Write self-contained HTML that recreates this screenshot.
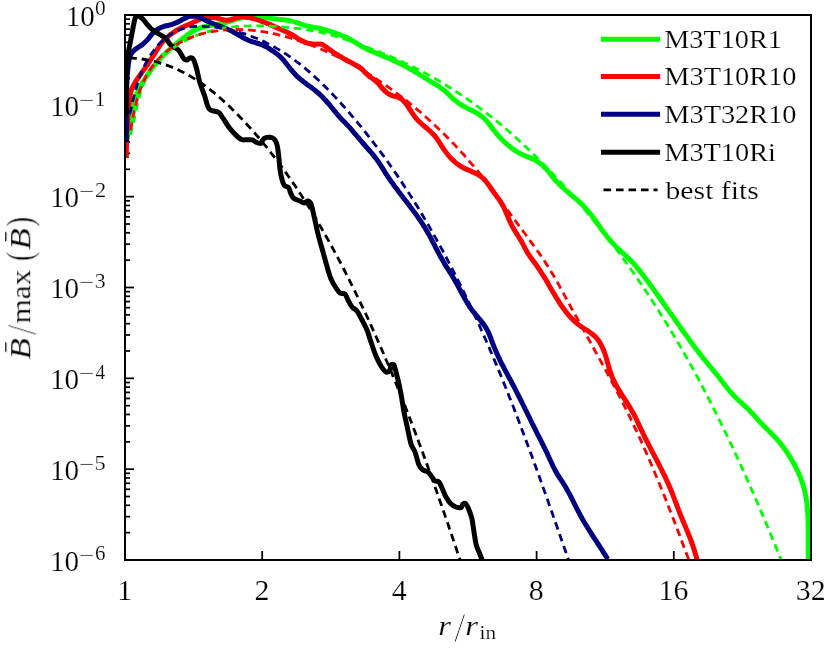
<!DOCTYPE html>
<html lang="en"><head><meta charset="utf-8"><title>Radial magnetic field profiles</title>
<style>
html,body{margin:0;padding:0;background:#fff;}
body{width:830px;height:650px;overflow:hidden;}
svg{display:block;}
text{font-family:"Liberation Serif",serif;fill:#000;font-kerning:none;stroke:#fff;stroke-width:0.2px;}
.txt{filter:grayscale(1);}
.s{fill:none;stroke-width:5.0;stroke-linejoin:round;stroke-linecap:butt;}
.d{fill:none;stroke-width:2.8;stroke-dasharray:7.6 4.9;stroke-linejoin:round;}
</style></head><body>
<svg width="830" height="650" viewBox="0 0 830 650">
<rect width="830" height="650" fill="#fff"/>
<defs><clipPath id="cp"><rect x="124" y="14" width="688" height="547"/></clipPath></defs>

<g stroke="#000" stroke-width="1.75">
<line x1="125.0" x2="134.0" y1="15.00" y2="15.00"/>
<line x1="125.0" x2="130.0" y1="78.49" y2="78.49"/>
<line x1="125.0" x2="130.0" y1="62.49" y2="62.49"/>
<line x1="125.0" x2="130.0" y1="51.15" y2="51.15"/>
<line x1="125.0" x2="130.0" y1="42.34" y2="42.34"/>
<line x1="125.0" x2="130.0" y1="35.15" y2="35.15"/>
<line x1="125.0" x2="130.0" y1="29.07" y2="29.07"/>
<line x1="125.0" x2="130.0" y1="23.80" y2="23.80"/>
<line x1="125.0" x2="130.0" y1="19.16" y2="19.16"/>
<line x1="125.0" x2="134.0" y1="105.83" y2="105.83"/>
<line x1="125.0" x2="130.0" y1="169.32" y2="169.32"/>
<line x1="125.0" x2="130.0" y1="153.33" y2="153.33"/>
<line x1="125.0" x2="130.0" y1="141.98" y2="141.98"/>
<line x1="125.0" x2="130.0" y1="133.18" y2="133.18"/>
<line x1="125.0" x2="130.0" y1="125.98" y2="125.98"/>
<line x1="125.0" x2="130.0" y1="119.90" y2="119.90"/>
<line x1="125.0" x2="130.0" y1="114.64" y2="114.64"/>
<line x1="125.0" x2="130.0" y1="109.99" y2="109.99"/>
<line x1="125.0" x2="134.0" y1="196.67" y2="196.67"/>
<line x1="125.0" x2="130.0" y1="260.16" y2="260.16"/>
<line x1="125.0" x2="130.0" y1="244.16" y2="244.16"/>
<line x1="125.0" x2="130.0" y1="232.81" y2="232.81"/>
<line x1="125.0" x2="130.0" y1="224.01" y2="224.01"/>
<line x1="125.0" x2="130.0" y1="216.82" y2="216.82"/>
<line x1="125.0" x2="130.0" y1="210.74" y2="210.74"/>
<line x1="125.0" x2="130.0" y1="205.47" y2="205.47"/>
<line x1="125.0" x2="130.0" y1="200.82" y2="200.82"/>
<line x1="125.0" x2="134.0" y1="287.50" y2="287.50"/>
<line x1="125.0" x2="130.0" y1="350.99" y2="350.99"/>
<line x1="125.0" x2="130.0" y1="334.99" y2="334.99"/>
<line x1="125.0" x2="130.0" y1="323.65" y2="323.65"/>
<line x1="125.0" x2="130.0" y1="314.84" y2="314.84"/>
<line x1="125.0" x2="130.0" y1="307.65" y2="307.65"/>
<line x1="125.0" x2="130.0" y1="301.57" y2="301.57"/>
<line x1="125.0" x2="130.0" y1="296.30" y2="296.30"/>
<line x1="125.0" x2="130.0" y1="291.66" y2="291.66"/>
<line x1="125.0" x2="134.0" y1="378.33" y2="378.33"/>
<line x1="125.0" x2="130.0" y1="441.82" y2="441.82"/>
<line x1="125.0" x2="130.0" y1="425.83" y2="425.83"/>
<line x1="125.0" x2="130.0" y1="414.48" y2="414.48"/>
<line x1="125.0" x2="130.0" y1="405.68" y2="405.68"/>
<line x1="125.0" x2="130.0" y1="398.48" y2="398.48"/>
<line x1="125.0" x2="130.0" y1="392.40" y2="392.40"/>
<line x1="125.0" x2="130.0" y1="387.14" y2="387.14"/>
<line x1="125.0" x2="130.0" y1="382.49" y2="382.49"/>
<line x1="125.0" x2="134.0" y1="469.17" y2="469.17"/>
<line x1="125.0" x2="130.0" y1="532.66" y2="532.66"/>
<line x1="125.0" x2="130.0" y1="516.66" y2="516.66"/>
<line x1="125.0" x2="130.0" y1="505.31" y2="505.31"/>
<line x1="125.0" x2="130.0" y1="496.51" y2="496.51"/>
<line x1="125.0" x2="130.0" y1="489.32" y2="489.32"/>
<line x1="125.0" x2="130.0" y1="483.24" y2="483.24"/>
<line x1="125.0" x2="130.0" y1="477.97" y2="477.97"/>
<line x1="125.0" x2="130.0" y1="473.32" y2="473.32"/>
<line x1="125.0" x2="134.0" y1="560.00" y2="560.00"/>
<line x1="125.00" x2="125.00" y1="560.0" y2="551.0"/>
<line x1="262.20" x2="262.20" y1="560.0" y2="551.0"/>
<line x1="399.40" x2="399.40" y1="560.0" y2="551.0"/>
<line x1="536.60" x2="536.60" y1="560.0" y2="551.0"/>
<line x1="673.80" x2="673.80" y1="560.0" y2="551.0"/>
<line x1="811.00" x2="811.00" y1="560.0" y2="551.0"/>
</g>
<g clip-path="url(#cp)">
<path class="s" stroke="#00ff00" d="M126.3 158.0C126.2 157.3 125.8 155.4 125.7 154.0C125.6 152.7 125.6 151.4 125.6 150.1C125.7 148.7 125.8 147.4 125.9 146.1C126.1 144.8 126.3 143.4 126.5 142.1C126.7 140.8 127.0 139.4 127.3 138.1C127.6 136.8 127.9 135.4 128.1 134.1C128.4 132.8 128.7 131.5 129.0 130.1C129.3 128.8 129.6 127.5 129.8 126.2C130.1 124.8 130.3 123.5 130.5 122.2C130.6 120.9 130.8 119.6 131.0 118.3C131.1 116.9 131.3 115.6 131.5 114.3C131.6 113.0 131.8 111.7 132.0 110.4C132.2 109.2 132.4 107.9 132.7 106.6C133.0 105.3 133.3 104.0 133.6 102.8C134.0 101.5 134.4 100.2 134.8 99.0C135.2 97.7 135.7 96.5 136.2 95.3C136.7 94.0 137.3 92.8 137.8 91.6C138.4 90.4 139.0 89.2 139.6 88.0C140.2 86.8 140.9 85.6 141.5 84.4C142.2 83.2 142.9 82.1 143.6 80.9C144.3 79.7 145.0 78.6 145.8 77.5C146.5 76.3 147.3 75.2 148.0 74.1C148.8 73.0 149.6 71.9 150.3 70.8C151.1 69.8 151.9 68.7 152.7 67.6C153.5 66.6 154.3 65.6 155.2 64.5C156.0 63.5 156.8 62.5 157.7 61.5C158.6 60.5 159.4 59.5 160.3 58.5C161.2 57.6 162.1 56.6 163.1 55.7C164.0 54.7 165.0 53.8 165.9 52.9C166.9 52.0 167.9 51.1 168.9 50.2C169.9 49.3 170.9 48.4 172.0 47.6C173.0 46.7 174.0 45.8 175.0 45.0C176.0 44.1 177.0 43.3 178.0 42.4C179.0 41.6 180.0 40.7 181.0 39.9C182.0 39.0 183.1 38.2 184.1 37.4C185.2 36.5 186.3 35.7 187.4 34.9C188.5 34.1 189.6 33.3 190.8 32.6C191.9 31.8 193.1 31.1 194.2 30.5C195.4 29.9 196.6 29.3 197.8 28.8C199.0 28.2 200.3 27.8 201.5 27.4C202.7 27.0 204.0 26.7 205.3 26.4C206.5 26.1 207.8 25.9 209.1 25.7C210.3 25.4 211.6 25.2 212.9 25.0C214.2 24.8 215.5 24.6 216.8 24.4C218.1 24.2 219.4 24.0 220.7 23.7C222.1 23.4 223.4 23.2 224.7 22.8C226.0 22.5 227.3 22.1 228.6 21.7C229.9 21.3 231.2 20.8 232.5 20.4C233.8 20.0 235.2 19.6 236.5 19.2C237.8 18.8 239.1 18.4 240.4 18.1C241.7 17.8 243.0 17.5 244.3 17.3C245.6 17.1 246.9 16.9 248.3 16.8C249.6 16.6 250.9 16.5 252.2 16.5C253.5 16.4 254.8 16.4 256.1 16.5C257.4 16.5 258.7 16.6 260.0 16.7C261.4 16.8 262.7 17.0 264.0 17.1C265.3 17.3 266.6 17.6 267.9 17.8C269.2 18.0 270.5 18.2 271.8 18.4C273.1 18.6 274.4 18.8 275.8 19.0C277.1 19.1 278.4 19.2 279.7 19.4C281.0 19.5 282.3 19.6 283.6 19.8C284.9 20.0 286.2 20.1 287.5 20.3C288.8 20.5 290.1 20.8 291.4 21.1C292.7 21.3 294.0 21.7 295.3 22.1C296.7 22.5 298.0 22.9 299.3 23.4C300.6 23.8 301.8 24.3 303.1 24.8C304.4 25.2 305.7 25.6 307.0 25.9C308.3 26.3 309.6 26.5 310.9 26.8C312.2 27.0 313.5 27.2 314.8 27.5C316.1 27.7 317.3 27.9 318.6 28.2C319.9 28.5 321.2 28.8 322.4 29.2C323.7 29.5 325.0 29.9 326.3 30.2C327.5 30.6 328.8 31.0 330.1 31.4C331.3 31.8 332.6 32.2 333.8 32.6C335.1 33.1 336.3 33.5 337.5 33.9C338.8 34.3 340.0 34.8 341.2 35.3C342.5 35.7 343.7 36.2 344.9 36.8C346.1 37.3 347.3 37.9 348.5 38.5C349.7 39.2 350.9 39.9 352.1 40.6C353.3 41.2 354.4 42.0 355.6 42.7C356.8 43.4 358.0 44.1 359.1 44.9C360.3 45.6 361.5 46.3 362.7 46.9C363.8 47.6 365.0 48.2 366.2 48.8C367.3 49.4 368.5 50.0 369.7 50.5C370.9 51.0 372.1 51.5 373.3 52.0C374.5 52.4 375.7 52.9 376.9 53.4C378.1 53.9 379.3 54.4 380.5 54.9C381.7 55.4 382.9 55.9 384.2 56.4C385.4 56.9 386.6 57.4 387.8 57.9C389.1 58.5 390.3 59.0 391.5 59.6C392.7 60.1 394.0 60.7 395.2 61.3C396.4 61.8 397.6 62.4 398.8 63.0C400.1 63.6 401.3 64.2 402.5 64.8C403.7 65.4 404.9 66.1 406.0 66.7C407.2 67.4 408.4 68.0 409.6 68.7C410.8 69.3 411.9 70.0 413.1 70.7C414.2 71.4 415.4 72.0 416.5 72.7C417.7 73.4 418.8 74.1 419.9 74.8C421.1 75.5 422.2 76.2 423.3 76.9C424.4 77.6 425.6 78.3 426.7 79.0C427.8 79.7 428.9 80.4 430.0 81.1C431.2 81.8 432.3 82.5 433.4 83.2C434.5 83.9 435.6 84.5 436.7 85.2C437.8 85.9 439.0 86.6 440.0 87.3C441.1 88.0 442.2 88.8 443.2 89.6C444.3 90.4 445.3 91.3 446.3 92.2C447.3 93.1 448.3 94.1 449.3 95.0C450.3 95.9 451.2 96.9 452.2 97.8C453.2 98.7 454.2 99.6 455.3 100.4C456.3 101.3 457.3 102.1 458.4 102.9C459.5 103.7 460.6 104.4 461.7 105.1C462.8 105.8 464.0 106.5 465.2 107.1C466.3 107.7 467.5 108.3 468.7 108.9C469.9 109.5 471.1 110.1 472.3 110.7C473.5 111.3 474.7 111.9 475.9 112.5C477.0 113.2 478.1 113.8 479.2 114.6C480.3 115.3 481.4 116.1 482.4 116.9C483.4 117.8 484.3 118.7 485.2 119.6C486.2 120.6 487.0 121.6 487.9 122.7C488.8 123.7 489.6 124.8 490.4 125.8C491.2 126.9 492.0 128.0 492.8 129.0C493.7 130.1 494.5 131.2 495.3 132.2C496.2 133.2 497.0 134.2 497.9 135.2C498.8 136.2 499.6 137.2 500.6 138.2C501.5 139.1 502.4 140.1 503.3 141.0C504.3 141.9 505.3 142.8 506.3 143.7C507.3 144.6 508.3 145.5 509.3 146.3C510.3 147.1 511.4 148.0 512.5 148.7C513.6 149.5 514.7 150.3 515.8 151.0C516.9 151.7 518.1 152.4 519.2 153.0C520.4 153.6 521.6 154.2 522.8 154.8C524.1 155.4 525.3 155.9 526.5 156.4C527.8 156.9 529.0 157.4 530.3 157.9C531.5 158.4 532.7 159.0 533.9 159.6C535.0 160.2 536.2 160.8 537.3 161.5C538.4 162.2 539.5 163.0 540.5 163.7C541.5 164.5 542.6 165.4 543.5 166.3C544.5 167.2 545.4 168.1 546.4 169.1C547.3 170.2 548.1 171.3 549.0 172.3C549.8 173.4 550.7 174.5 551.5 175.6C552.4 176.7 553.3 177.7 554.1 178.7C555.0 179.8 555.9 180.7 556.8 181.7C557.7 182.7 558.6 183.6 559.5 184.5C560.5 185.4 561.4 186.3 562.4 187.2C563.3 188.1 564.3 189.0 565.2 189.9C566.2 190.7 567.2 191.6 568.2 192.4C569.2 193.3 570.2 194.1 571.2 195.0C572.3 195.8 573.3 196.7 574.3 197.6C575.4 198.4 576.4 199.3 577.4 200.2C578.4 201.1 579.5 202.0 580.5 202.9C581.4 203.8 582.4 204.8 583.3 205.7C584.3 206.7 585.2 207.7 586.0 208.6C586.9 209.6 587.8 210.7 588.6 211.7C589.4 212.7 590.3 213.7 591.1 214.8C591.9 215.8 592.7 216.9 593.4 218.0C594.2 219.0 595.0 220.1 595.8 221.2C596.5 222.3 597.3 223.3 598.1 224.4C598.8 225.5 599.6 226.6 600.4 227.7C601.2 228.8 601.9 229.8 602.7 230.9C603.5 232.0 604.3 233.1 605.2 234.1C606.0 235.2 606.8 236.2 607.7 237.3C608.5 238.3 609.4 239.4 610.2 240.4C611.1 241.4 612.0 242.4 612.9 243.4C613.8 244.4 614.7 245.4 615.7 246.3C616.6 247.3 617.5 248.2 618.5 249.1C619.5 250.1 620.5 251.0 621.5 251.8C622.4 252.7 623.4 253.6 624.4 254.5C625.4 255.4 626.4 256.3 627.4 257.2C628.3 258.1 629.3 259.0 630.2 260.0C631.2 260.9 632.1 261.9 633.0 262.8C633.9 263.8 634.7 264.8 635.6 265.8C636.5 266.8 637.3 267.8 638.2 268.9C639.0 269.9 639.8 270.9 640.6 272.0C641.5 273.0 642.3 274.1 643.1 275.1C643.9 276.2 644.7 277.3 645.5 278.3C646.3 279.4 647.1 280.5 647.9 281.5C648.6 282.6 649.4 283.7 650.2 284.8C651.0 285.9 651.8 286.9 652.6 288.0C653.3 289.1 654.1 290.2 654.9 291.3C655.7 292.4 656.5 293.4 657.2 294.5C658.0 295.6 658.8 296.7 659.6 297.8C660.4 298.9 661.1 300.0 661.9 301.0C662.7 302.1 663.5 303.2 664.2 304.3C665.0 305.4 665.8 306.5 666.5 307.6C667.3 308.7 668.1 309.8 668.8 310.9C669.6 312.0 670.4 313.0 671.2 314.1C671.9 315.2 672.7 316.3 673.5 317.4C674.2 318.5 675.0 319.6 675.8 320.7C676.5 321.8 677.3 322.8 678.0 323.9C678.8 325.0 679.6 326.1 680.3 327.2C681.1 328.3 681.9 329.4 682.6 330.4C683.4 331.5 684.2 332.6 684.9 333.7C685.7 334.8 686.5 335.8 687.3 336.9C688.0 338.0 688.8 339.1 689.6 340.2C690.4 341.2 691.1 342.3 691.9 343.4C692.7 344.4 693.5 345.5 694.3 346.6C695.1 347.6 695.9 348.7 696.7 349.8C697.5 350.8 698.3 351.9 699.1 352.9C700.0 354.0 700.8 355.1 701.6 356.1C702.5 357.2 703.3 358.2 704.1 359.3C705.0 360.3 705.8 361.3 706.7 362.4C707.6 363.4 708.4 364.5 709.3 365.5C710.1 366.5 711.0 367.6 711.9 368.6C712.7 369.6 713.6 370.7 714.4 371.7C715.3 372.7 716.1 373.8 717.0 374.8C717.8 375.8 718.6 376.9 719.4 377.9C720.2 378.9 721.0 380.0 721.8 381.0C722.6 382.0 723.4 383.1 724.2 384.1C725.0 385.1 725.8 386.2 726.6 387.2C727.4 388.3 728.3 389.3 729.1 390.3C730.0 391.4 730.9 392.4 731.8 393.4C732.7 394.5 733.7 395.5 734.6 396.5C735.6 397.4 736.5 398.4 737.5 399.3C738.5 400.3 739.4 401.1 740.4 402.0C741.4 402.9 742.4 403.7 743.3 404.6C744.3 405.5 745.3 406.3 746.2 407.2C747.2 408.1 748.1 409.0 749.0 409.9C750.0 410.9 750.9 411.8 751.8 412.8C752.7 413.8 753.6 414.8 754.5 415.8C755.4 416.8 756.2 417.8 757.1 418.8C758.0 419.8 758.9 420.8 759.8 421.8C760.7 422.8 761.7 423.8 762.6 424.8C763.5 425.7 764.5 426.7 765.4 427.7C766.4 428.6 767.3 429.5 768.3 430.5C769.3 431.4 770.2 432.3 771.2 433.2C772.1 434.2 773.1 435.1 774.0 436.1C774.9 437.0 775.8 438.0 776.7 439.0C777.6 440.0 778.4 441.0 779.3 442.0C780.1 443.0 780.9 444.0 781.8 445.1C782.6 446.1 783.4 447.2 784.1 448.3C784.9 449.3 785.7 450.4 786.4 451.5C787.2 452.6 787.9 453.7 788.6 454.8C789.3 455.9 790.0 457.1 790.7 458.2C791.4 459.4 792.1 460.5 792.7 461.7C793.4 462.8 794.1 464.0 794.7 465.2C795.3 466.4 795.9 467.6 796.5 468.8C797.1 470.0 797.7 471.2 798.3 472.4C798.8 473.6 799.3 474.9 799.9 476.1C800.4 477.3 800.9 478.6 801.3 479.8C801.8 481.1 802.2 482.3 802.6 483.6C803.0 484.9 803.4 486.1 803.8 487.4C804.2 488.7 804.5 490.0 804.8 491.3C805.1 492.6 805.4 493.9 805.6 495.2C805.9 496.5 806.1 497.8 806.3 499.1C806.5 500.4 806.7 501.7 806.9 503.0C807.0 504.3 807.2 505.6 807.3 507.0C807.4 508.3 807.5 509.6 807.6 511.0C807.7 512.3 807.8 513.6 807.9 514.9C807.9 516.3 808.0 517.6 808.0 519.0C808.1 520.3 808.1 521.6 808.1 523.0C808.2 524.3 808.2 525.7 808.2 527.0C808.2 528.3 808.2 529.7 808.2 531.0C808.2 532.4 808.2 533.7 808.2 535.1C808.2 536.4 808.2 537.7 808.2 539.1C808.2 540.4 808.2 541.8 808.2 543.1C808.2 544.4 808.2 545.8 808.2 547.1C808.2 548.4 808.2 549.8 808.2 551.1C808.2 552.4 808.3 553.7 808.3 555.0C808.3 556.4 808.4 558.2 808.4 559.0C808.5 559.8 808.5 559.5 808.5 559.6"/>
<path class="s" stroke="#ff0000" d="M126.3 158.0C126.3 157.3 126.3 155.4 126.3 154.1C126.3 152.8 126.3 151.5 126.3 150.2C126.4 148.9 126.4 147.5 126.4 146.2C126.4 144.9 126.5 143.6 126.5 142.2C126.6 140.9 126.6 139.5 126.7 138.2C126.7 136.8 126.8 135.5 126.8 134.1C126.9 132.8 127.0 131.4 127.0 130.1C127.1 128.7 127.2 127.4 127.3 126.0C127.3 124.7 127.4 123.3 127.5 122.0C127.6 120.6 127.7 119.3 127.8 117.9C127.9 116.6 128.0 115.2 128.1 113.9C128.2 112.5 128.3 111.2 128.5 109.9C128.6 108.5 128.7 107.2 128.8 105.9C129.0 104.6 129.1 103.3 129.2 102.0C129.4 100.7 129.5 99.4 129.7 98.1C129.9 96.8 130.1 95.5 130.3 94.3C130.6 93.0 130.9 91.8 131.3 90.5C131.7 89.3 132.2 88.1 132.7 86.8C133.3 85.6 133.9 84.4 134.6 83.3C135.3 82.1 136.1 80.9 136.9 79.7C137.6 78.6 138.4 77.5 139.2 76.3C140.0 75.2 140.8 74.1 141.6 73.0C142.3 71.9 143.1 70.8 143.9 69.8C144.6 68.7 145.4 67.6 146.1 66.5C146.9 65.5 147.6 64.4 148.3 63.3C149.1 62.2 149.8 61.1 150.5 60.0C151.2 59.0 152.0 57.9 152.7 56.7C153.4 55.6 154.1 54.5 154.8 53.4C155.5 52.2 156.2 51.1 156.9 49.9C157.7 48.8 158.4 47.7 159.1 46.5C159.9 45.4 160.7 44.3 161.5 43.3C162.4 42.2 163.2 41.2 164.1 40.2C165.1 39.3 166.0 38.3 167.0 37.4C168.0 36.5 169.0 35.7 170.0 34.8C171.1 34.0 172.2 33.2 173.3 32.5C174.4 31.7 175.5 31.0 176.6 30.3C177.8 29.7 179.0 29.0 180.1 28.4C181.3 27.8 182.5 27.3 183.7 26.7C184.9 26.2 186.1 25.7 187.3 25.1C188.5 24.6 189.8 24.1 191.0 23.5C192.2 23.0 193.4 22.4 194.6 21.8C195.9 21.2 197.1 20.6 198.3 19.9C199.5 19.3 200.7 18.5 201.9 18.1C203.1 17.7 204.3 17.5 205.5 17.3C206.7 17.2 208.0 17.3 209.3 17.3C210.6 17.3 211.9 17.3 213.3 17.4C214.6 17.5 215.9 17.7 217.3 18.0C218.6 18.3 219.9 18.8 221.2 19.2C222.5 19.5 223.8 20.0 225.1 20.1C226.4 20.3 227.7 20.2 229.0 20.0C230.3 19.8 231.6 19.4 232.9 19.0C234.2 18.6 235.5 18.1 236.9 17.8C238.2 17.5 239.5 17.2 240.8 17.1C242.1 17.0 243.4 17.0 244.6 17.0C245.9 17.1 247.2 17.2 248.5 17.5C249.8 17.7 251.1 18.0 252.4 18.3C253.7 18.7 255.0 19.0 256.3 19.5C257.5 19.9 258.8 20.3 260.1 20.7C261.3 21.2 262.6 21.7 263.9 22.2C265.1 22.6 266.4 23.1 267.6 23.6C268.9 24.2 270.1 24.7 271.4 25.2C272.6 25.7 273.8 26.3 275.1 26.8C276.3 27.4 277.5 27.9 278.7 28.5C279.9 29.0 281.1 29.6 282.3 30.1C283.5 30.7 284.7 31.2 285.9 31.7C287.1 32.3 288.2 32.8 289.4 33.4C290.5 33.9 291.7 34.5 292.8 35.2C293.9 35.8 295.1 36.6 296.2 37.4C297.3 38.1 298.4 38.9 299.5 39.6C300.7 40.2 301.8 40.8 303.0 41.3C304.2 41.9 305.4 42.4 306.7 42.8C308.0 43.2 309.3 43.5 310.6 43.8C312.0 44.0 313.3 44.2 314.7 44.2C316.0 44.3 317.3 44.0 318.6 44.0C319.9 44.0 321.1 44.0 322.2 44.4C323.4 44.8 324.4 45.8 325.5 46.6C326.6 47.4 327.7 48.3 328.8 49.1C329.9 49.9 331.0 50.7 332.1 51.4C333.3 52.2 334.4 52.9 335.5 53.7C336.7 54.4 337.8 55.1 339.0 55.8C340.1 56.5 341.3 57.1 342.4 57.8C343.6 58.5 344.7 59.1 345.9 59.7C347.0 60.4 348.2 61.0 349.3 61.6C350.5 62.2 351.6 62.9 352.8 63.5C353.9 64.1 355.1 64.7 356.2 65.3C357.3 66.0 358.5 66.5 359.5 67.3C360.6 68.1 361.7 68.9 362.7 69.9C363.7 70.9 364.6 72.1 365.6 73.1C366.6 74.1 367.6 75.0 368.6 75.8C369.6 76.7 370.7 77.3 371.7 78.0C372.8 78.8 373.8 79.4 374.8 80.2C375.8 81.0 376.7 81.9 377.7 82.8C378.6 83.7 379.4 84.8 380.3 85.8C381.2 86.9 382.1 88.0 383.0 89.0C383.9 90.0 384.8 91.0 385.9 91.9C386.9 92.7 388.0 93.5 389.2 94.2C390.3 94.9 391.6 95.4 392.8 95.8C394.1 96.2 395.4 96.4 396.6 96.8C397.8 97.3 399.1 97.6 400.2 98.3C401.3 98.9 402.4 99.8 403.3 100.7C404.3 101.7 405.2 102.8 406.1 103.9C406.9 105.0 407.7 106.1 408.5 107.2C409.2 108.4 409.9 109.5 410.7 110.6C411.4 111.7 412.1 112.9 412.8 113.9C413.6 115.0 414.3 116.1 415.1 117.1C415.9 118.2 416.8 119.2 417.7 120.1C418.6 121.1 419.6 122.0 420.5 122.9C421.5 123.8 422.5 124.7 423.5 125.6C424.6 126.5 425.6 127.3 426.6 128.2C427.6 129.1 428.7 130.0 429.7 130.9C430.7 131.8 431.6 132.7 432.6 133.6C433.5 134.6 434.4 135.5 435.3 136.5C436.1 137.6 436.9 138.6 437.6 139.7C438.4 140.8 439.1 141.9 439.8 143.0C440.5 144.1 441.2 145.2 441.9 146.4C442.6 147.5 443.4 148.6 444.1 149.7C444.9 150.8 445.7 151.9 446.5 153.0C447.3 154.0 448.2 155.1 449.0 156.1C449.9 157.1 450.8 158.1 451.8 159.1C452.7 160.0 453.7 160.9 454.7 161.8C455.7 162.7 456.7 163.5 457.8 164.3C458.9 165.1 460.0 165.9 461.1 166.5C462.3 167.2 463.5 167.8 464.7 168.4C465.9 169.0 467.2 169.6 468.4 170.1C469.6 170.7 470.9 171.2 472.1 171.7C473.3 172.3 474.6 172.8 475.8 173.4C476.9 174.0 478.1 174.6 479.2 175.3C480.3 176.0 481.3 176.8 482.3 177.6C483.3 178.5 484.2 179.4 485.1 180.4C485.9 181.4 486.8 182.5 487.6 183.5C488.4 184.6 489.1 185.7 489.9 186.8C490.7 187.9 491.5 189.1 492.3 190.2C493.0 191.3 493.8 192.4 494.6 193.5C495.4 194.5 496.3 195.6 497.0 196.7C497.8 197.8 498.6 198.8 499.4 199.9C500.1 201.0 500.8 202.1 501.5 203.3C502.2 204.4 502.8 205.5 503.4 206.7C504.0 207.9 504.6 209.1 505.1 210.3C505.6 211.5 506.2 212.7 506.7 213.9C507.2 215.1 507.7 216.3 508.2 217.6C508.7 218.8 509.2 220.0 509.8 221.3C510.3 222.5 510.9 223.7 511.5 224.9C512.1 226.1 512.8 227.3 513.5 228.5C514.2 229.7 514.9 230.9 515.6 232.0C516.3 233.2 517.1 234.4 517.8 235.5C518.5 236.7 519.3 237.8 520.0 239.0C520.7 240.1 521.3 241.2 522.0 242.4C522.6 243.5 523.2 244.6 523.8 245.8C524.4 246.9 524.9 248.0 525.5 249.1C526.1 250.2 526.7 251.4 527.4 252.5C528.0 253.6 528.8 254.7 529.5 255.8C530.3 256.9 531.1 258.0 531.9 259.1C532.7 260.3 533.6 261.4 534.4 262.5C535.2 263.6 536.0 264.7 536.8 265.8C537.6 266.9 538.3 268.0 539.1 269.2C539.8 270.3 540.6 271.4 541.3 272.5C542.0 273.6 542.7 274.7 543.4 275.9C544.1 277.0 544.8 278.1 545.5 279.2C546.1 280.4 546.8 281.5 547.5 282.6C548.1 283.8 548.8 284.9 549.4 286.0C550.1 287.2 550.8 288.3 551.4 289.4C552.1 290.6 552.8 291.7 553.4 292.8C554.1 294.0 554.8 295.1 555.5 296.3C556.2 297.4 556.9 298.6 557.6 299.7C558.3 300.8 559.0 302.0 559.8 303.1C560.5 304.2 561.3 305.4 562.0 306.5C562.8 307.6 563.6 308.7 564.4 309.8C565.2 310.9 566.0 312.0 566.9 313.0C567.7 314.1 568.6 315.1 569.5 316.1C570.4 317.1 571.3 318.1 572.2 319.0C573.1 320.0 574.1 320.9 575.1 321.8C576.0 322.7 577.0 323.5 578.1 324.4C579.1 325.2 580.2 325.9 581.2 326.7C582.3 327.4 583.4 328.1 584.5 328.8C585.6 329.5 586.8 330.2 587.9 330.9C589.0 331.7 590.1 332.4 591.1 333.2C592.2 334.0 593.2 334.8 594.2 335.7C595.2 336.6 596.1 337.6 597.0 338.6C597.9 339.7 598.7 340.8 599.4 341.9C600.1 343.0 600.8 344.2 601.4 345.4C602.0 346.6 602.6 347.8 603.1 349.0C603.6 350.3 604.1 351.5 604.6 352.8C605.0 354.0 605.4 355.3 605.8 356.6C606.2 357.9 606.6 359.2 607.0 360.5C607.3 361.8 607.7 363.1 608.1 364.3C608.4 365.6 608.8 366.9 609.1 368.2C609.5 369.5 609.9 370.7 610.3 372.0C610.7 373.2 611.2 374.5 611.7 375.7C612.1 376.9 612.6 378.1 613.2 379.3C613.7 380.5 614.3 381.7 614.9 382.9C615.5 384.1 616.1 385.2 616.8 386.4C617.4 387.6 618.1 388.7 618.8 389.9C619.5 391.0 620.2 392.1 620.9 393.3C621.6 394.4 622.4 395.5 623.1 396.7C623.8 397.8 624.6 399.0 625.3 400.1C626.0 401.2 626.8 402.4 627.5 403.5C628.2 404.7 628.9 405.8 629.6 407.0C630.3 408.2 631.0 409.3 631.7 410.5C632.4 411.6 633.0 412.8 633.7 414.0C634.3 415.2 634.9 416.3 635.5 417.5C636.1 418.7 636.6 419.9 637.2 421.0C637.7 422.2 638.3 423.4 638.8 424.6C639.4 425.8 639.9 427.0 640.5 428.2C641.0 429.3 641.6 430.5 642.2 431.7C642.8 432.9 643.3 434.1 643.9 435.3C644.5 436.5 645.1 437.7 645.7 438.9C646.3 440.1 646.9 441.3 647.5 442.4C648.1 443.6 648.7 444.8 649.3 446.0C649.9 447.2 650.5 448.4 651.2 449.6C651.8 450.8 652.4 452.0 653.0 453.2C653.6 454.4 654.3 455.5 654.9 456.7C655.5 457.9 656.1 459.1 656.8 460.3C657.4 461.5 658.0 462.7 658.6 463.9C659.2 465.1 659.8 466.3 660.4 467.5C661.0 468.7 661.7 469.9 662.2 471.1C662.8 472.3 663.4 473.5 664.0 474.7C664.6 475.9 665.2 477.1 665.7 478.3C666.3 479.5 666.9 480.7 667.4 481.9C668.0 483.2 668.5 484.4 669.0 485.6C669.6 486.8 670.1 488.0 670.6 489.2C671.1 490.4 671.6 491.7 672.1 492.9C672.6 494.1 673.0 495.3 673.5 496.6C674.0 497.8 674.4 499.0 674.9 500.3C675.4 501.5 675.8 502.7 676.3 503.9C676.8 505.2 677.2 506.4 677.7 507.7C678.2 508.9 678.6 510.1 679.1 511.4C679.6 512.6 680.1 513.9 680.6 515.1C681.1 516.3 681.6 517.6 682.1 518.8C682.6 520.1 683.1 521.3 683.7 522.6C684.2 523.8 684.8 525.1 685.3 526.3C685.8 527.6 686.4 528.8 686.9 530.1C687.4 531.3 687.9 532.6 688.4 533.8C688.9 535.1 689.4 536.3 689.9 537.6C690.4 538.8 690.8 540.1 691.3 541.3C691.7 542.6 692.2 543.9 692.6 545.1C693.0 546.4 693.5 547.6 693.9 548.9C694.3 550.1 694.7 551.4 695.0 552.6C695.4 553.9 695.8 555.3 696.1 556.4C696.5 557.6 696.9 559.0 697.0 559.5"/>
<path class="s" stroke="#000080" d="M126.2 142.0C126.2 141.3 126.3 139.4 126.3 138.0C126.4 136.7 126.4 135.4 126.5 134.1C126.5 132.7 126.5 131.4 126.5 130.1C126.5 128.7 126.6 127.4 126.6 126.1C126.6 124.7 126.6 123.4 126.6 122.1C126.6 120.7 126.6 119.4 126.6 118.1C126.6 116.7 126.6 115.4 126.6 114.1C126.6 112.7 126.6 111.4 126.6 110.0C126.6 108.7 126.5 107.4 126.5 106.0C126.5 104.7 126.5 103.3 126.5 102.0C126.5 100.7 126.6 99.3 126.6 98.0C126.6 96.6 126.6 95.3 126.6 94.0C126.6 92.6 126.6 91.3 126.7 89.9C126.7 88.6 126.7 87.3 126.8 85.9C126.8 84.6 126.9 83.3 126.9 81.9C127.0 80.6 127.1 79.3 127.2 77.9C127.2 76.6 127.3 75.3 127.4 73.9C127.5 72.6 127.6 71.3 127.8 70.0C127.9 68.6 128.0 67.3 128.2 66.0C128.3 64.7 128.5 63.4 128.7 62.0C128.9 60.7 129.0 59.4 129.4 58.2C129.8 56.9 130.2 55.7 130.8 54.5C131.4 53.4 132.3 52.3 133.1 51.3C134.0 50.3 135.1 49.5 136.2 48.7C137.3 47.8 138.5 47.2 139.6 46.5C140.7 45.7 141.8 45.0 142.8 44.2C143.9 43.4 144.8 42.5 145.7 41.6C146.7 40.7 147.5 39.6 148.4 38.6C149.2 37.6 150.0 36.5 150.9 35.5C151.8 34.5 152.6 33.4 153.6 32.5C154.6 31.5 155.7 30.6 156.8 29.8C157.9 29.0 159.2 28.3 160.4 27.7C161.6 27.1 162.8 26.8 164.1 26.4C165.3 26.0 166.5 25.8 167.7 25.5C169.0 25.2 170.2 25.0 171.4 24.6C172.6 24.3 173.9 23.9 175.1 23.3C176.3 22.8 177.6 22.2 178.8 21.5C180.0 20.9 181.3 20.2 182.5 19.5C183.7 18.9 185.0 18.2 186.2 17.7C187.5 17.2 188.7 16.7 189.9 16.4C191.2 16.1 192.4 16.0 193.7 16.0C194.9 16.1 196.1 16.3 197.4 16.7C198.6 17.1 199.9 17.6 201.1 18.1C202.3 18.7 203.6 19.3 204.8 19.9C206.1 20.5 207.3 21.1 208.5 21.6C209.8 22.2 211.0 22.7 212.2 23.3C213.5 23.8 214.7 24.2 216.0 24.7C217.2 25.2 218.4 25.6 219.6 26.1C220.9 26.6 222.1 27.0 223.3 27.5C224.5 28.0 225.7 28.5 227.0 29.0C228.2 29.5 229.4 30.0 230.6 30.6C231.8 31.2 232.9 31.8 234.1 32.5C235.3 33.1 236.5 33.8 237.7 34.5C238.8 35.2 240.0 35.9 241.2 36.6C242.4 37.3 243.5 38.0 244.7 38.6C245.9 39.2 247.1 39.8 248.3 40.3C249.5 40.8 250.8 41.2 252.0 41.6C253.2 42.0 254.5 42.3 255.7 42.7C257.0 43.1 258.2 43.4 259.4 43.9C260.7 44.3 261.9 44.7 263.1 45.3C264.4 45.8 265.6 46.4 266.8 47.1C268.0 47.8 269.1 48.6 270.3 49.3C271.4 50.0 272.6 50.8 273.7 51.6C274.8 52.4 275.9 53.1 276.9 53.9C277.9 54.7 278.9 55.6 279.9 56.4C280.8 57.3 281.7 58.3 282.6 59.2C283.5 60.2 284.4 61.2 285.2 62.2C286.1 63.3 286.9 64.3 287.7 65.4C288.6 66.4 289.4 67.5 290.2 68.6C291.1 69.6 291.9 70.7 292.8 71.7C293.7 72.7 294.5 73.7 295.5 74.7C296.4 75.6 297.4 76.6 298.4 77.5C299.3 78.4 300.4 79.2 301.4 80.1C302.5 80.9 303.5 81.7 304.6 82.5C305.7 83.3 306.7 84.1 307.8 84.9C308.9 85.7 310.0 86.5 311.1 87.3C312.1 88.1 313.2 88.8 314.2 89.7C315.3 90.5 316.3 91.3 317.3 92.2C318.3 93.0 319.3 93.9 320.2 94.8C321.2 95.7 322.1 96.6 323.0 97.6C324.0 98.5 324.9 99.5 325.7 100.5C326.6 101.5 327.5 102.5 328.4 103.5C329.3 104.5 330.1 105.6 331.0 106.6C331.8 107.7 332.7 108.7 333.6 109.8C334.4 110.8 335.3 111.9 336.1 112.9C337.0 113.9 337.8 115.0 338.7 116.0C339.6 117.0 340.4 117.9 341.3 118.9C342.2 119.8 343.1 120.7 344.0 121.6C344.9 122.5 345.8 123.4 346.7 124.4C347.6 125.4 348.6 126.4 349.5 127.4C350.4 128.4 351.3 129.4 352.2 130.5C353.1 131.5 354.0 132.6 354.9 133.6C355.7 134.6 356.6 135.6 357.4 136.6C358.3 137.6 359.1 138.6 359.9 139.6C360.8 140.6 361.6 141.5 362.4 142.5C363.3 143.5 364.1 144.5 365.0 145.4C365.8 146.4 366.7 147.4 367.6 148.5C368.5 149.5 369.5 150.5 370.4 151.6C371.3 152.6 372.2 153.7 373.1 154.7C373.9 155.8 374.8 156.9 375.6 158.0C376.5 159.1 377.3 160.2 378.0 161.3C378.8 162.4 379.5 163.5 380.2 164.6C381.0 165.7 381.6 166.8 382.3 167.9C383.0 169.0 383.7 170.1 384.4 171.2C385.1 172.4 385.8 173.5 386.5 174.6C387.2 175.6 387.9 176.7 388.7 177.8C389.4 178.9 390.2 180.0 390.9 181.1C391.7 182.2 392.5 183.2 393.2 184.3C394.0 185.4 394.8 186.4 395.6 187.5C396.4 188.6 397.2 189.6 398.0 190.7C398.8 191.8 399.6 192.8 400.4 193.9C401.2 195.0 402.0 196.0 402.9 197.1C403.7 198.2 404.5 199.2 405.3 200.3C406.1 201.3 407.0 202.4 407.8 203.5C408.6 204.5 409.4 205.6 410.2 206.7C411.0 207.7 411.8 208.8 412.6 209.9C413.4 211.0 414.2 212.0 415.0 213.1C415.8 214.2 416.6 215.3 417.4 216.4C418.2 217.5 418.9 218.6 419.7 219.7C420.4 220.8 421.2 221.9 421.9 223.0C422.6 224.1 423.4 225.2 424.1 226.4C424.8 227.5 425.5 228.6 426.1 229.8C426.8 230.9 427.5 232.1 428.1 233.2C428.8 234.4 429.4 235.6 430.1 236.7C430.7 237.9 431.3 239.1 431.9 240.2C432.5 241.4 433.1 242.6 433.8 243.8C434.4 244.9 435.0 246.1 435.6 247.3C436.2 248.5 436.8 249.7 437.4 250.8C438.0 252.0 438.7 253.2 439.3 254.4C439.9 255.5 440.6 256.7 441.2 257.9C441.9 259.0 442.5 260.2 443.2 261.3C443.9 262.5 444.6 263.6 445.2 264.8C445.9 265.9 446.6 267.0 447.3 268.2C448.0 269.3 448.8 270.4 449.5 271.6C450.2 272.7 450.9 273.9 451.6 275.0C452.3 276.1 453.0 277.3 453.7 278.4C454.3 279.6 455.0 280.7 455.7 281.9C456.3 283.0 457.0 284.2 457.6 285.3C458.3 286.5 458.9 287.7 459.5 288.9C460.1 290.0 460.8 291.2 461.4 292.4C462.0 293.6 462.6 294.7 463.3 295.9C463.9 297.1 464.5 298.2 465.2 299.4C465.8 300.5 466.5 301.7 467.2 302.8C467.9 303.9 468.6 305.1 469.3 306.2C470.1 307.3 470.8 308.4 471.6 309.5C472.4 310.6 473.2 311.6 474.1 312.7C474.9 313.7 475.8 314.8 476.7 315.8C477.6 316.9 478.5 317.9 479.3 318.9C480.2 320.0 481.1 321.0 481.9 322.1C482.7 323.1 483.5 324.2 484.3 325.3C485.0 326.3 485.8 327.4 486.4 328.5C487.1 329.7 487.7 330.8 488.2 332.0C488.8 333.1 489.3 334.3 489.7 335.5C490.2 336.8 490.7 338.0 491.2 339.2C491.6 340.4 492.1 341.7 492.5 342.9C493.0 344.2 493.5 345.5 494.0 346.7C494.5 348.0 495.0 349.2 495.6 350.5C496.1 351.7 496.6 353.0 497.2 354.2C497.7 355.5 498.3 356.7 498.9 357.9C499.5 359.2 500.0 360.4 500.6 361.6C501.2 362.8 501.8 364.0 502.4 365.1C503.1 366.3 503.7 367.5 504.3 368.7C504.9 369.9 505.5 371.0 506.2 372.2C506.8 373.4 507.4 374.5 508.0 375.7C508.7 376.9 509.3 378.0 509.9 379.2C510.6 380.3 511.2 381.5 511.8 382.7C512.4 383.8 513.1 385.0 513.7 386.2C514.3 387.4 514.9 388.5 515.5 389.7C516.1 390.9 516.7 392.1 517.3 393.3C517.9 394.4 518.5 395.6 519.1 396.8C519.7 398.0 520.3 399.2 520.9 400.4C521.5 401.6 522.1 402.8 522.7 404.0C523.3 405.2 523.9 406.4 524.5 407.6C525.0 408.8 525.6 410.0 526.2 411.2C526.8 412.4 527.4 413.6 528.0 414.8C528.6 416.0 529.2 417.2 529.8 418.4C530.3 419.6 530.9 420.8 531.5 422.0C532.1 423.2 532.7 424.4 533.3 425.6C533.9 426.8 534.5 428.0 535.1 429.2C535.7 430.4 536.3 431.6 536.9 432.8C537.5 434.0 538.1 435.2 538.7 436.4C539.3 437.6 540.0 438.8 540.6 440.0C541.2 441.2 541.8 442.4 542.4 443.6C543.0 444.8 543.6 446.0 544.1 447.2C544.7 448.4 545.3 449.6 545.9 450.7C546.5 451.9 547.0 453.1 547.6 454.3C548.1 455.5 548.7 456.7 549.2 457.8C549.8 459.0 550.3 460.2 550.8 461.4C551.4 462.5 551.9 463.7 552.4 464.9C553.0 466.0 553.6 467.2 554.2 468.4C554.8 469.5 555.4 470.7 556.0 471.9C556.7 473.0 557.4 474.2 558.1 475.4C558.8 476.5 559.6 477.7 560.4 478.9C561.1 480.0 561.9 481.2 562.7 482.4C563.4 483.5 564.1 484.7 564.9 485.9C565.6 487.0 566.2 488.2 566.9 489.4C567.6 490.6 568.2 491.7 568.9 492.9C569.5 494.1 570.1 495.2 570.7 496.4C571.3 497.6 571.9 498.8 572.5 499.9C573.1 501.1 573.7 502.3 574.2 503.4C574.8 504.6 575.4 505.8 576.0 507.0C576.6 508.1 577.2 509.3 577.8 510.5C578.4 511.6 579.0 512.8 579.6 513.9C580.2 515.1 580.8 516.3 581.5 517.4C582.1 518.6 582.8 519.7 583.5 520.9C584.1 522.0 584.8 523.2 585.5 524.3C586.2 525.5 586.9 526.6 587.6 527.7C588.3 528.9 589.1 530.0 589.8 531.2C590.5 532.3 591.2 533.4 592.0 534.6C592.7 535.7 593.4 536.8 594.2 538.0C594.9 539.1 595.6 540.2 596.4 541.3C597.1 542.5 597.8 543.6 598.6 544.7C599.3 545.8 600.0 547.0 600.8 548.1C601.5 549.2 602.2 550.3 602.9 551.4C603.6 552.6 604.4 553.7 605.1 554.8C605.8 555.9 606.6 557.3 607.1 558.1C607.6 558.9 607.8 559.3 608.0 559.5"/>
<path class="s" stroke="#000000" d="M126.2 116.0C126.2 111.7 126.2 97.7 126.3 90.0C126.4 82.3 126.4 75.3 126.6 70.0C126.8 64.7 127.0 61.8 127.4 58.0C127.9 54.2 128.7 50.5 129.3 47.0C130.0 43.5 130.7 40.1 131.3 37.0C131.9 33.9 132.3 31.5 132.9 28.5C133.5 25.5 134.2 21.2 134.8 19.2C135.4 17.1 135.8 16.8 136.3 16.2C136.8 15.6 137.1 15.6 137.6 15.6C138.1 15.6 138.3 15.6 139.2 16.2C140.1 16.8 141.7 17.9 143.0 19.2C144.3 20.5 145.5 22.3 146.8 23.9C148.1 25.4 149.7 27.4 150.9 28.5C152.1 29.6 152.5 29.9 153.8 30.8C155.1 31.7 157.0 32.8 158.9 34.0C160.8 35.2 163.4 36.2 165.4 38.0C167.4 39.8 168.6 43.1 170.8 45.1C173.0 47.1 176.2 47.7 178.4 50.0C180.6 52.2 182.4 57.0 183.8 58.6C185.3 60.3 186.0 60.1 187.1 59.9C188.1 59.8 189.2 57.8 190.3 57.8C191.4 57.7 192.5 57.8 193.6 59.7C194.7 61.7 195.8 65.9 196.8 69.5C197.8 73.1 198.2 77.0 199.5 81.4C200.8 85.8 203.0 91.2 204.6 95.8C206.2 100.4 206.9 106.3 209.2 109.0C211.5 111.8 216.2 110.8 218.5 112.3C220.8 113.9 221.3 115.7 223.1 118.3C225.0 121.0 226.9 124.8 229.8 128.3C232.6 131.7 237.6 136.9 240.4 138.9C243.1 140.8 244.2 139.5 246.2 139.7C248.2 139.9 250.7 139.5 252.3 139.9C253.9 140.3 254.6 141.6 256.0 142.2C257.4 142.8 259.8 143.7 260.9 143.4C262.0 143.1 261.8 141.4 262.4 140.6C263.0 139.8 263.5 138.9 264.3 138.4C265.1 137.9 266.1 137.6 267.0 137.4C267.9 137.2 268.7 137.1 269.6 137.2C270.5 137.3 271.6 137.4 272.5 137.9C273.4 138.4 274.4 139.3 275.1 140.2C275.8 141.1 276.2 142.3 276.6 143.5C277.0 144.7 277.2 145.2 277.6 147.5C278.0 149.8 278.4 153.4 278.8 157.0C279.2 160.6 279.5 165.6 280.0 169.3C280.5 173.0 281.2 176.4 281.9 179.1C282.6 181.8 283.2 183.9 284.3 185.3C285.4 186.7 287.6 186.5 288.6 187.7C289.6 188.9 289.8 191.0 290.5 192.7C291.2 194.3 292.2 196.5 293.0 197.6C293.8 198.7 293.8 198.4 295.0 199.0C296.2 199.6 298.5 200.3 300.0 201.0C301.5 201.7 302.7 203.0 304.0 203.0C305.3 203.0 306.8 200.8 308.0 201.0C309.2 201.2 310.0 201.5 311.0 204.0C312.0 206.5 312.8 211.0 314.0 216.0C315.2 221.0 316.5 228.0 318.0 234.0C319.5 240.0 321.3 246.0 323.0 252.0C324.7 258.0 326.7 265.5 328.0 270.0C329.3 274.5 329.7 276.0 331.0 279.0C332.3 282.0 334.5 285.7 336.0 288.0C337.5 290.3 338.5 292.0 340.0 293.0C341.5 294.0 343.7 292.8 345.0 294.0C346.3 295.2 346.8 297.8 348.0 300.0C349.2 302.2 350.5 305.2 352.0 307.0C353.5 308.8 355.3 308.8 357.0 311.0C358.7 313.2 360.3 316.8 362.0 320.0C363.7 323.2 365.5 326.3 367.0 330.0C368.5 333.7 369.5 337.7 371.0 342.0C372.5 346.3 374.3 352.0 376.0 356.0C377.7 360.0 379.3 363.3 381.0 366.0C382.7 368.7 384.5 371.3 386.0 372.0C387.5 372.7 389.2 371.2 390.0 370.0C390.8 368.8 390.3 365.8 391.0 365.0C391.7 364.2 393.2 363.8 394.0 365.0C394.8 366.2 395.2 368.8 396.0 372.0C396.8 375.2 398.2 380.3 399.0 384.0C399.8 387.7 400.5 391.3 401.0 394.0C401.5 396.7 401.5 397.0 402.0 400.0C402.5 403.0 403.2 407.7 404.0 412.0C404.8 416.3 405.8 420.7 407.0 426.0C408.2 431.3 409.7 439.7 411.0 444.0C412.3 448.3 413.7 448.5 415.0 452.0C416.3 455.5 417.7 462.0 419.0 465.0C420.3 468.0 421.5 468.8 423.0 470.0C424.5 471.2 426.5 470.8 428.0 472.0C429.5 473.2 430.8 475.5 432.0 477.0C433.2 478.5 433.8 480.2 435.0 481.0C436.2 481.8 437.8 480.8 439.0 482.0C440.2 483.2 440.8 485.5 442.0 488.0C443.2 490.5 444.5 494.3 446.0 497.0C447.5 499.7 449.3 502.3 451.0 504.0C452.7 505.7 454.3 506.4 456.0 507.0C457.7 507.6 459.8 508.1 461.0 507.6C462.2 507.1 462.2 504.6 463.0 504.0C463.8 503.4 465.0 503.0 466.0 504.0C467.0 505.0 468.0 507.5 469.0 510.0C470.0 512.5 471.2 515.3 472.0 519.0C472.8 522.7 473.3 527.8 474.0 532.0C474.7 536.2 475.2 540.7 476.0 544.0C476.8 547.3 478.0 549.4 479.0 552.0C480.0 554.6 481.5 558.3 482.0 559.6"/>
<path class="d" stroke="#00ff00" d="M130.2 134.9C130.4 134.0 131.3 131.3 131.8 129.4C132.4 127.5 132.8 125.6 133.3 123.6C133.7 121.7 134.2 119.7 134.6 117.7C135.0 115.8 135.4 113.8 135.8 111.8C136.2 109.8 136.7 107.8 137.1 105.8C137.5 103.8 138.0 101.8 138.5 99.8C139.0 97.8 139.5 95.8 140.1 93.9C140.6 92.0 141.2 90.0 141.9 88.1C142.6 86.2 143.3 84.4 144.1 82.6C144.9 80.7 145.7 79.0 146.7 77.2C147.6 75.5 148.6 73.8 149.7 72.1C150.7 70.5 151.9 68.8 153.0 67.3C154.2 65.7 155.5 64.2 156.8 62.7C158.1 61.2 159.4 59.8 160.9 58.4C162.3 57.0 163.7 55.6 165.2 54.3C166.7 53.0 168.3 51.7 169.8 50.5C171.4 49.3 173.1 48.1 174.7 47.0C176.4 45.9 178.1 44.8 179.8 43.8C181.5 42.7 183.3 41.8 185.1 40.8C186.8 39.9 188.6 39.0 190.5 38.1C192.3 37.3 194.1 36.5 196.0 35.7C197.9 35.0 199.7 34.3 201.6 33.6C203.5 33.0 205.4 32.4 207.3 31.8C209.3 31.3 211.2 30.8 213.1 30.3C215.0 29.8 217.0 29.4 218.9 29.0C220.9 28.6 222.8 28.3 224.8 28.0C226.7 27.7 228.7 27.4 230.7 27.1C232.7 26.9 234.6 26.7 236.6 26.5C238.6 26.4 240.6 26.2 242.6 26.1C244.6 26.0 246.6 25.9 248.6 25.9C250.6 25.8 252.6 25.8 254.6 25.8C256.6 25.8 258.6 25.8 260.6 25.8C262.6 25.9 264.6 25.9 266.6 26.0C268.6 26.1 270.6 26.2 272.6 26.3C274.6 26.4 276.6 26.5 278.6 26.7C280.6 26.8 282.6 27.0 284.6 27.1C286.5 27.3 288.5 27.5 290.5 27.7C292.5 27.9 294.5 28.1 296.4 28.3C298.4 28.5 300.4 28.8 302.3 29.1C304.3 29.3 306.3 29.6 308.2 30.0C310.2 30.3 312.2 30.6 314.1 31.0C316.1 31.4 318.0 31.8 319.9 32.2C321.9 32.7 323.8 33.1 325.8 33.6C327.7 34.1 329.6 34.6 331.6 35.1C333.5 35.7 335.4 36.2 337.3 36.8C339.2 37.4 341.2 38.0 343.1 38.6C345.0 39.2 346.9 39.8 348.8 40.5C350.7 41.1 352.6 41.8 354.5 42.5C356.4 43.1 358.2 43.8 360.1 44.5C362.0 45.2 363.9 45.9 365.8 46.6C367.6 47.3 369.5 48.0 371.4 48.8C373.2 49.5 375.1 50.2 376.9 50.9C378.8 51.7 380.6 52.4 382.5 53.2C384.3 53.9 386.2 54.7 388.0 55.5C389.8 56.2 391.7 57.0 393.5 57.8C395.3 58.6 397.1 59.4 398.9 60.2C400.7 61.0 402.5 61.9 404.3 62.7C406.1 63.5 407.9 64.4 409.7 65.3C411.5 66.1 413.3 67.0 415.1 67.9C416.9 68.8 418.6 69.7 420.4 70.6C422.2 71.5 423.9 72.4 425.7 73.4C427.4 74.3 429.2 75.3 430.9 76.3C432.7 77.2 434.4 78.2 436.1 79.2C437.8 80.2 439.6 81.2 441.3 82.3C443.0 83.3 444.7 84.3 446.4 85.4C448.1 86.4 449.8 87.5 451.5 88.5C453.2 89.6 454.9 90.7 456.6 91.8C458.2 92.9 459.9 94.0 461.6 95.1C463.2 96.2 464.9 97.4 466.5 98.5C468.2 99.7 469.8 100.8 471.5 102.0C473.1 103.1 474.7 104.3 476.4 105.5C478.0 106.7 479.6 107.9 481.2 109.1C482.8 110.3 484.4 111.5 486.0 112.7C487.6 113.9 489.2 115.2 490.8 116.4C492.3 117.7 493.9 118.9 495.5 120.2C497.0 121.4 498.6 122.7 500.1 124.0C501.7 125.3 503.2 126.6 504.7 127.9C506.3 129.2 507.8 130.5 509.3 131.8C510.8 133.1 512.3 134.4 513.8 135.8C515.3 137.1 516.8 138.4 518.2 139.8C519.7 141.1 521.2 142.5 522.6 143.8C524.1 145.2 525.5 146.6 527.0 147.9C528.4 149.3 529.9 150.7 531.3 152.1C532.7 153.5 534.1 154.9 535.6 156.3C537.0 157.7 538.4 159.1 539.8 160.5C541.2 161.9 542.6 163.3 544.0 164.7C545.4 166.2 546.7 167.6 548.1 169.0C549.5 170.5 550.9 171.9 552.2 173.3C553.6 174.8 555.0 176.2 556.3 177.7C557.7 179.1 559.1 180.6 560.4 182.1C561.8 183.5 563.1 185.0 564.4 186.5C565.8 188.0 567.1 189.4 568.4 190.9C569.8 192.4 571.1 193.9 572.4 195.4C573.7 196.9 575.1 198.4 576.4 199.9C577.7 201.4 579.0 202.9 580.3 204.4C581.6 205.9 582.9 207.5 584.2 209.0C585.5 210.5 586.7 212.0 588.0 213.6C589.3 215.1 590.6 216.6 591.8 218.2C593.1 219.7 594.4 221.3 595.6 222.8C596.9 224.4 598.2 225.9 599.4 227.5C600.7 229.0 601.9 230.6 603.1 232.2C604.4 233.7 605.6 235.3 606.8 236.9C608.1 238.5 609.3 240.1 610.5 241.6C611.7 243.2 612.9 244.8 614.1 246.4C615.4 248.0 616.6 249.6 617.8 251.2C619.0 252.8 620.1 254.4 621.3 256.0C622.5 257.6 623.7 259.3 624.9 260.9C626.1 262.5 627.2 264.1 628.4 265.8C629.6 267.4 630.7 269.0 631.9 270.7C633.0 272.3 634.2 273.9 635.3 275.6C636.5 277.2 637.6 278.9 638.7 280.5C639.9 282.2 641.0 283.8 642.1 285.5C643.2 287.1 644.4 288.8 645.5 290.5C646.6 292.1 647.7 293.8 648.8 295.5C649.9 297.1 651.0 298.8 652.1 300.5C653.2 302.2 654.3 303.8 655.3 305.5C656.4 307.2 657.5 308.9 658.6 310.6C659.6 312.3 660.7 314.0 661.7 315.7C662.8 317.4 663.9 319.0 664.9 320.8C666.0 322.5 667.0 324.2 668.0 325.9C669.1 327.6 670.1 329.3 671.1 331.0C672.2 332.7 673.2 334.4 674.2 336.1C675.2 337.9 676.2 339.6 677.2 341.3C678.3 343.0 679.3 344.8 680.3 346.5C681.3 348.2 682.3 350.0 683.2 351.7C684.2 353.4 685.2 355.2 686.2 356.9C687.2 358.6 688.2 360.4 689.1 362.1C690.1 363.9 691.1 365.6 692.0 367.4C693.0 369.1 694.0 370.9 694.9 372.6C695.9 374.4 696.8 376.1 697.8 377.9C698.7 379.7 699.6 381.4 700.6 383.2C701.5 385.0 702.5 386.7 703.4 388.5C704.3 390.3 705.2 392.0 706.2 393.8C707.1 395.6 708.0 397.4 708.9 399.1C709.8 400.9 710.7 402.7 711.6 404.5C712.5 406.3 713.4 408.0 714.3 409.8C715.2 411.6 716.1 413.4 717.0 415.2C717.9 417.0 718.8 418.8 719.7 420.6C720.6 422.4 721.4 424.2 722.3 426.0C723.2 427.8 724.1 429.5 724.9 431.4C725.8 433.2 726.7 435.0 727.5 436.8C728.4 438.6 729.3 440.4 730.1 442.2C731.0 444.0 731.8 445.8 732.7 447.6C733.5 449.4 734.4 451.2 735.2 453.0C736.0 454.9 736.9 456.7 737.7 458.5C738.6 460.3 739.4 462.1 740.2 463.9C741.0 465.8 741.9 467.6 742.7 469.4C743.5 471.2 744.3 473.1 745.2 474.9C746.0 476.7 746.8 478.5 747.6 480.4C748.4 482.2 749.2 484.0 750.0 485.8C750.8 487.7 751.6 489.5 752.4 491.3C753.2 493.2 754.0 495.0 754.8 496.8C755.6 498.7 756.4 500.5 757.2 502.3C758.0 504.2 758.8 506.0 759.6 507.9C760.4 509.7 761.2 511.5 761.9 513.4C762.7 515.2 763.5 517.1 764.3 518.9C765.1 520.7 765.8 522.6 766.6 524.4C767.4 526.3 768.1 528.1 768.9 530.0C769.7 531.8 770.4 533.7 771.2 535.5C772.0 537.3 772.7 539.2 773.5 541.0C774.3 542.9 775.0 544.7 775.8 546.6C776.5 548.4 777.3 550.3 778.0 552.1C778.8 554.0 779.8 556.4 780.3 557.7C780.8 559.0 781.0 559.4 781.1 559.8"/>
<path class="d" stroke="#ff0000" d="M130.6 130.1C130.8 129.1 131.3 126.2 131.7 124.3C132.0 122.3 132.4 120.3 132.8 118.4C133.2 116.4 133.6 114.4 134.0 112.4C134.4 110.5 134.8 108.5 135.3 106.5C135.8 104.5 136.2 102.6 136.8 100.6C137.3 98.7 137.9 96.7 138.5 94.8C139.1 92.8 139.7 90.9 140.4 89.0C141.1 87.2 141.8 85.3 142.6 83.4C143.4 81.6 144.3 79.8 145.2 78.0C146.1 76.2 147.1 74.5 148.1 72.8C149.1 71.1 150.2 69.4 151.4 67.8C152.5 66.2 153.8 64.6 155.0 63.1C156.3 61.5 157.6 60.0 159.0 58.6C160.3 57.2 161.8 55.8 163.2 54.4C164.7 53.1 166.2 51.8 167.7 50.6C169.3 49.3 170.9 48.2 172.5 47.0C174.1 45.9 175.8 44.9 177.5 43.9C179.2 42.9 180.9 41.9 182.7 41.1C184.5 40.2 186.3 39.4 188.1 38.6C189.9 37.8 191.8 37.1 193.6 36.4C195.5 35.8 197.4 35.1 199.3 34.6C201.2 34.0 203.2 33.5 205.1 33.0C207.1 32.6 209.1 32.1 211.0 31.8C213.0 31.4 215.0 31.1 217.0 30.8C219.0 30.5 221.0 30.3 223.0 30.1C225.0 29.9 227.1 29.8 229.1 29.7C231.1 29.6 233.1 29.5 235.1 29.5C237.2 29.5 239.2 29.5 241.2 29.6C243.2 29.6 245.2 29.7 247.2 29.8C249.2 30.0 251.2 30.1 253.2 30.3C255.2 30.5 257.1 30.8 259.1 31.1C261.1 31.3 263.0 31.6 265.0 32.0C267.0 32.3 268.9 32.7 270.9 33.1C272.8 33.5 274.8 33.9 276.7 34.3C278.6 34.8 280.6 35.3 282.5 35.8C284.4 36.3 286.3 36.8 288.2 37.4C290.1 37.9 292.1 38.5 293.9 39.1C295.8 39.7 297.7 40.3 299.6 41.0C301.5 41.6 303.4 42.3 305.2 42.9C307.1 43.6 309.0 44.3 310.8 45.0C312.7 45.8 314.5 46.5 316.4 47.2C318.2 48.0 320.1 48.8 321.9 49.5C323.7 50.3 325.5 51.1 327.4 51.9C329.2 52.8 331.0 53.6 332.8 54.5C334.6 55.3 336.4 56.2 338.2 57.1C339.9 57.9 341.7 58.8 343.5 59.7C345.3 60.7 347.0 61.6 348.8 62.5C350.5 63.5 352.3 64.4 354.0 65.4C355.8 66.4 357.5 67.4 359.2 68.4C361.0 69.4 362.7 70.4 364.4 71.4C366.1 72.5 367.8 73.5 369.5 74.6C371.2 75.6 372.9 76.7 374.5 77.8C376.2 78.9 377.9 80.0 379.6 81.1C381.2 82.2 382.9 83.3 384.5 84.5C386.2 85.6 387.8 86.8 389.4 87.9C391.1 89.1 392.7 90.3 394.3 91.5C395.9 92.6 397.5 93.8 399.1 95.0C400.7 96.3 402.3 97.5 403.9 98.7C405.5 99.9 407.1 101.2 408.6 102.4C410.2 103.7 411.7 105.0 413.3 106.2C414.8 107.5 416.4 108.8 417.9 110.1C419.4 111.4 421.0 112.7 422.5 114.0C424.0 115.3 425.5 116.7 427.0 118.0C428.5 119.4 430.0 120.7 431.4 122.1C432.9 123.4 434.4 124.8 435.8 126.2C437.3 127.5 438.8 128.9 440.2 130.3C441.6 131.7 443.1 133.1 444.5 134.5C445.9 135.9 447.3 137.3 448.7 138.8C450.1 140.2 451.5 141.6 452.9 143.1C454.3 144.5 455.7 146.0 457.0 147.4C458.4 148.9 459.7 150.4 461.1 151.8C462.4 153.3 463.8 154.8 465.1 156.3C466.4 157.8 467.7 159.3 469.0 160.8C470.3 162.3 471.6 163.8 472.9 165.3C474.2 166.8 475.5 168.3 476.7 169.9C478.0 171.4 479.3 172.9 480.5 174.5C481.7 176.0 483.0 177.6 484.2 179.1C485.4 180.7 486.6 182.2 487.8 183.8C489.1 185.4 490.3 186.9 491.4 188.5C492.6 190.1 493.8 191.7 495.0 193.2C496.2 194.8 497.4 196.4 498.6 198.0C499.7 199.6 500.9 201.2 502.1 202.8C503.3 204.4 504.5 206.0 505.6 207.6C506.8 209.2 508.0 210.8 509.2 212.4C510.4 214.1 511.6 215.7 512.8 217.3C514.0 218.9 515.2 220.5 516.4 222.2C517.6 223.8 518.8 225.4 520.1 227.1C521.3 228.7 522.5 230.3 523.7 232.0C524.9 233.6 526.1 235.2 527.3 236.9C528.5 238.5 529.7 240.2 530.9 241.8C532.1 243.4 533.3 245.1 534.5 246.7C535.7 248.4 536.9 250.0 538.0 251.7C539.2 253.3 540.3 255.0 541.5 256.6C542.6 258.3 543.7 259.9 544.8 261.6C545.9 263.3 547.0 264.9 548.1 266.6C549.2 268.3 550.2 270.0 551.2 271.7C552.3 273.4 553.3 275.1 554.2 276.8C555.2 278.5 556.2 280.2 557.2 281.9C558.1 283.6 559.1 285.3 560.0 287.1C561.0 288.8 561.9 290.5 562.8 292.2C563.8 294.0 564.7 295.7 565.7 297.4C566.6 299.2 567.5 300.9 568.5 302.6C569.4 304.4 570.4 306.1 571.3 307.8C572.3 309.6 573.2 311.3 574.2 313.1C575.2 314.8 576.1 316.5 577.1 318.3C578.0 320.0 579.0 321.8 580.0 323.5C580.9 325.3 581.9 327.0 582.9 328.7C583.8 330.5 584.8 332.2 585.8 334.0C586.7 335.7 587.7 337.5 588.7 339.2C589.6 341.0 590.6 342.8 591.6 344.5C592.5 346.3 593.5 348.0 594.5 349.8C595.4 351.5 596.4 353.3 597.4 355.1C598.4 356.8 599.3 358.6 600.3 360.4C601.3 362.1 602.2 363.9 603.2 365.7C604.1 367.4 605.1 369.2 606.1 371.0C607.0 372.7 608.0 374.5 608.9 376.3C609.9 378.0 610.8 379.8 611.8 381.6C612.7 383.4 613.7 385.2 614.6 386.9C615.5 388.7 616.5 390.5 617.4 392.3C618.3 394.1 619.2 395.8 620.2 397.6C621.1 399.4 622.0 401.2 622.9 403.0C623.8 404.8 624.7 406.6 625.6 408.4C626.5 410.2 627.4 412.0 628.2 413.8C629.1 415.6 630.0 417.4 630.9 419.2C631.7 421.0 632.6 422.8 633.4 424.6C634.3 426.4 635.1 428.2 636.0 430.0C636.8 431.8 637.7 433.6 638.5 435.4C639.3 437.2 640.1 439.0 641.0 440.8C641.8 442.7 642.6 444.5 643.4 446.3C644.2 448.1 645.0 449.9 645.8 451.7C646.6 453.6 647.4 455.4 648.2 457.2C649.0 459.0 649.8 460.9 650.6 462.7C651.4 464.5 652.1 466.4 652.9 468.2C653.7 470.0 654.5 471.9 655.2 473.7C656.0 475.5 656.8 477.4 657.5 479.2C658.3 481.0 659.0 482.9 659.8 484.7C660.5 486.6 661.3 488.4 662.0 490.3C662.8 492.1 663.5 494.0 664.3 495.8C665.0 497.7 665.7 499.5 666.5 501.4C667.2 503.2 667.9 505.1 668.7 507.0C669.4 508.8 670.1 510.7 670.9 512.5C671.6 514.4 672.3 516.3 673.0 518.1C673.8 520.0 674.5 521.9 675.2 523.8C675.9 525.6 676.6 527.5 677.3 529.4C678.1 531.3 678.8 533.1 679.5 535.0C680.2 536.9 680.9 538.8 681.6 540.7C682.3 542.6 683.0 544.4 683.7 546.3C684.4 548.2 685.2 550.1 685.9 552.0C686.6 553.9 687.5 556.3 688.0 557.7C688.5 559.1 688.7 559.7 688.9 560.1"/>
<path class="d" stroke="#000080" d="M129.8 114.2C130.1 113.2 130.7 110.3 131.2 108.3C131.6 106.4 132.0 104.4 132.5 102.5C132.9 100.6 133.4 98.6 133.9 96.7C134.4 94.8 134.9 92.9 135.4 90.9C135.9 89.0 136.5 87.1 137.1 85.2C137.6 83.3 138.2 81.4 138.9 79.6C139.5 77.7 140.2 75.8 141.0 73.9C141.7 72.1 142.4 70.2 143.3 68.4C144.1 66.6 145.0 64.8 145.9 63.0C146.8 61.2 147.8 59.4 148.9 57.7C149.9 56.0 151.0 54.2 152.2 52.6C153.4 50.9 154.6 49.3 155.9 47.7C157.2 46.1 158.6 44.5 160.1 43.0C161.5 41.6 163.0 40.1 164.6 38.8C166.1 37.5 167.7 36.2 169.4 35.1C171.1 34.0 172.8 32.9 174.5 32.0C176.2 31.1 178.0 30.3 179.8 29.6C181.7 28.9 183.5 28.4 185.4 27.9C187.3 27.5 189.2 27.1 191.1 26.9C193.0 26.6 194.9 26.5 196.9 26.4C198.8 26.3 200.8 26.2 202.8 26.3C204.7 26.3 206.7 26.4 208.7 26.6C210.7 26.7 212.7 26.9 214.6 27.1C216.6 27.4 218.6 27.6 220.5 27.9C222.5 28.3 224.5 28.6 226.4 29.0C228.4 29.4 230.3 29.8 232.3 30.3C234.2 30.8 236.2 31.3 238.1 31.9C240.0 32.4 242.0 33.0 243.9 33.6C245.8 34.2 247.7 34.9 249.6 35.6C251.4 36.3 253.3 37.0 255.2 37.8C257.0 38.5 258.9 39.3 260.7 40.2C262.5 41.0 264.4 41.8 266.2 42.7C268.0 43.6 269.7 44.5 271.5 45.5C273.3 46.4 275.0 47.4 276.7 48.4C278.5 49.4 280.2 50.4 281.9 51.5C283.6 52.5 285.2 53.6 286.9 54.7C288.5 55.8 290.2 57.0 291.8 58.1C293.4 59.3 295.0 60.4 296.6 61.6C298.2 62.8 299.8 64.1 301.4 65.3C302.9 66.5 304.5 67.8 306.0 69.1C307.5 70.4 309.0 71.7 310.5 73.0C312.1 74.3 313.5 75.6 315.0 77.0C316.5 78.3 318.0 79.7 319.4 81.1C320.9 82.4 322.3 83.8 323.7 85.2C325.2 86.7 326.6 88.1 328.0 89.5C329.4 90.9 330.8 92.4 332.2 93.8C333.6 95.3 334.9 96.8 336.3 98.2C337.7 99.7 339.0 101.2 340.4 102.7C341.7 104.2 343.1 105.7 344.4 107.2C345.7 108.7 347.0 110.2 348.4 111.7C349.7 113.2 351.0 114.7 352.3 116.3C353.6 117.8 354.9 119.3 356.2 120.9C357.4 122.4 358.7 123.9 360.0 125.5C361.3 127.0 362.5 128.6 363.8 130.1C365.0 131.7 366.3 133.3 367.5 134.8C368.7 136.4 370.0 138.0 371.2 139.6C372.4 141.1 373.6 142.7 374.8 144.3C376.1 145.9 377.3 147.5 378.5 149.1C379.6 150.7 380.8 152.3 382.0 153.9C383.2 155.5 384.4 157.1 385.5 158.8C386.7 160.4 387.9 162.0 389.0 163.6C390.2 165.3 391.3 166.9 392.5 168.5C393.6 170.2 394.7 171.8 395.9 173.4C397.0 175.1 398.1 176.7 399.2 178.4C400.3 180.0 401.4 181.7 402.5 183.4C403.6 185.0 404.7 186.7 405.8 188.4C406.9 190.0 408.0 191.7 409.1 193.4C410.1 195.1 411.2 196.8 412.3 198.4C413.3 200.1 414.4 201.8 415.4 203.5C416.5 205.2 417.5 206.9 418.6 208.6C419.6 210.3 420.6 212.0 421.7 213.7C422.7 215.5 423.7 217.2 424.7 218.9C425.7 220.6 426.8 222.3 427.8 224.0C428.8 225.8 429.8 227.5 430.7 229.2C431.7 231.0 432.7 232.7 433.7 234.4C434.7 236.2 435.7 237.9 436.6 239.7C437.6 241.4 438.6 243.2 439.5 244.9C440.5 246.7 441.4 248.4 442.4 250.2C443.3 251.9 444.3 253.7 445.2 255.5C446.2 257.2 447.1 259.0 448.0 260.8C448.9 262.5 449.9 264.3 450.8 266.1C451.7 267.8 452.6 269.6 453.5 271.4C454.4 273.2 455.3 275.0 456.2 276.8C457.1 278.5 458.0 280.3 458.9 282.1C459.8 283.9 460.7 285.7 461.6 287.5C462.4 289.3 463.3 291.1 464.2 292.9C465.1 294.7 465.9 296.5 466.8 298.3C467.7 300.1 468.5 301.9 469.4 303.7C470.2 305.5 471.1 307.4 471.9 309.2C472.8 311.0 473.6 312.8 474.4 314.6C475.3 316.4 476.1 318.2 476.9 320.1C477.8 321.9 478.6 323.7 479.4 325.5C480.2 327.4 481.0 329.2 481.8 331.0C482.7 332.8 483.5 334.7 484.3 336.5C485.1 338.3 485.9 340.2 486.7 342.0C487.5 343.8 488.3 345.7 489.1 347.5C489.8 349.4 490.6 351.2 491.4 353.0C492.2 354.9 493.0 356.7 493.8 358.6C494.5 360.4 495.3 362.3 496.1 364.1C496.8 365.9 497.6 367.8 498.4 369.6C499.1 371.5 499.9 373.3 500.7 375.2C501.4 377.0 502.2 378.9 502.9 380.8C503.7 382.6 504.4 384.5 505.2 386.3C505.9 388.2 506.7 390.0 507.4 391.9C508.1 393.8 508.9 395.6 509.6 397.5C510.3 399.3 511.1 401.2 511.8 403.1C512.5 404.9 513.3 406.8 514.0 408.6C514.7 410.5 515.4 412.4 516.1 414.2C516.9 416.1 517.6 418.0 518.3 419.8C519.0 421.7 519.7 423.6 520.4 425.5C521.1 427.3 521.8 429.2 522.5 431.1C523.2 432.9 523.9 434.8 524.6 436.7C525.4 438.6 526.0 440.4 526.7 442.3C527.4 444.2 528.1 446.1 528.8 447.9C529.5 449.8 530.2 451.7 530.9 453.6C531.6 455.4 532.3 457.3 533.0 459.2C533.7 461.1 534.3 463.0 535.0 464.8C535.7 466.7 536.4 468.6 537.1 470.5C537.7 472.4 538.4 474.2 539.1 476.1C539.8 478.0 540.4 479.9 541.1 481.8C541.8 483.7 542.5 485.5 543.1 487.4C543.8 489.3 544.5 491.2 545.1 493.1C545.8 495.0 546.5 496.8 547.2 498.7C547.8 500.6 548.5 502.5 549.1 504.4C549.8 506.3 550.5 508.2 551.1 510.0C551.8 511.9 552.5 513.8 553.1 515.7C553.8 517.6 554.4 519.5 555.1 521.4C555.8 523.3 556.4 525.1 557.1 527.0C557.7 528.9 558.4 530.8 559.1 532.7C559.7 534.6 560.4 536.5 561.0 538.3C561.7 540.2 562.3 542.1 563.0 544.0C563.7 545.9 564.3 547.8 565.0 549.7C565.6 551.5 566.3 553.5 566.9 555.3C567.6 557.1 568.4 559.6 568.7 560.4"/>
<path class="d" stroke="#000000" d="M129.2 58.0C130.3 58.1 133.5 58.2 135.5 58.3C137.6 58.5 139.7 58.7 141.7 59.0C143.8 59.3 145.8 59.6 147.8 60.0C149.8 60.4 151.8 60.8 153.7 61.2C155.7 61.7 157.6 62.2 159.5 62.8C161.4 63.3 163.3 63.9 165.2 64.6C167.1 65.2 168.9 65.9 170.7 66.6C172.6 67.3 174.4 68.1 176.2 68.9C178.0 69.7 179.8 70.6 181.5 71.4C183.3 72.3 185.0 73.2 186.7 74.2C188.4 75.1 190.1 76.1 191.8 77.1C193.5 78.1 195.2 79.1 196.8 80.2C198.5 81.3 200.1 82.4 201.7 83.5C203.4 84.6 205.0 85.8 206.5 87.0C208.1 88.1 209.7 89.4 211.3 90.6C212.8 91.8 214.4 93.1 215.9 94.3C217.4 95.6 218.9 96.9 220.4 98.2C221.9 99.5 223.4 100.9 224.9 102.2C226.4 103.6 227.8 104.9 229.3 106.3C230.7 107.7 232.2 109.1 233.6 110.5C235.0 111.9 236.4 113.4 237.8 114.8C239.2 116.2 240.6 117.7 242.0 119.1C243.4 120.6 244.8 122.1 246.1 123.5C247.5 125.0 248.8 126.5 250.2 128.0C251.5 129.5 252.8 131.0 254.2 132.5C255.5 134.0 256.8 135.5 258.1 137.0C259.4 138.5 260.7 140.1 262.0 141.6C263.2 143.1 264.5 144.7 265.8 146.2C267.0 147.8 268.3 149.4 269.5 150.9C270.8 152.5 272.0 154.1 273.2 155.7C274.5 157.2 275.7 158.8 276.9 160.4C278.1 162.0 279.3 163.6 280.5 165.2C281.7 166.8 282.8 168.4 284.0 170.1C285.2 171.7 286.4 173.3 287.5 175.0C288.7 176.6 289.8 178.2 291.0 179.9C292.1 181.5 293.2 183.2 294.4 184.8C295.5 186.5 296.6 188.1 297.7 189.8C298.8 191.5 299.9 193.2 301.0 194.8C302.1 196.5 303.2 198.2 304.3 199.9C305.4 201.6 306.4 203.3 307.5 205.0C308.6 206.7 309.6 208.4 310.7 210.1C311.7 211.8 312.8 213.5 313.8 215.2C314.8 216.9 315.9 218.7 316.9 220.4C317.9 222.1 318.9 223.8 319.9 225.6C320.9 227.3 322.0 229.0 322.9 230.8C323.9 232.5 324.9 234.3 325.9 236.0C326.9 237.8 327.9 239.5 328.9 241.3C329.8 243.0 330.8 244.8 331.8 246.5C332.7 248.3 333.7 250.0 334.6 251.8C335.6 253.6 336.5 255.3 337.5 257.1C338.4 258.9 339.4 260.7 340.3 262.4C341.2 264.2 342.1 266.0 343.1 267.8C344.0 269.5 344.9 271.3 345.8 273.1C346.7 274.9 347.6 276.7 348.5 278.5C349.4 280.2 350.3 282.0 351.2 283.8C352.1 285.6 353.0 287.4 353.9 289.2C354.8 291.0 355.7 292.8 356.5 294.6C357.4 296.4 358.3 298.2 359.1 300.0C360.0 301.8 360.9 303.6 361.7 305.4C362.6 307.2 363.4 309.0 364.3 310.8C365.1 312.6 366.0 314.4 366.8 316.2C367.7 318.0 368.5 319.9 369.3 321.7C370.2 323.5 371.0 325.3 371.8 327.1C372.6 328.9 373.5 330.8 374.3 332.6C375.1 334.4 375.9 336.2 376.7 338.0C377.5 339.9 378.3 341.7 379.1 343.5C379.9 345.3 380.7 347.2 381.5 349.0C382.3 350.8 383.1 352.7 383.9 354.5C384.7 356.3 385.5 358.2 386.2 360.0C387.0 361.8 387.8 363.7 388.6 365.5C389.4 367.4 390.1 369.2 390.9 371.0C391.7 372.9 392.4 374.7 393.2 376.6C393.9 378.4 394.7 380.3 395.5 382.1C396.2 383.9 397.0 385.8 397.7 387.6C398.5 389.5 399.2 391.3 399.9 393.2C400.7 395.1 401.4 396.9 402.2 398.8C402.9 400.6 403.6 402.5 404.4 404.3C405.1 406.2 405.8 408.0 406.5 409.9C407.3 411.8 408.0 413.6 408.7 415.5C409.4 417.3 410.1 419.2 410.9 421.1C411.6 422.9 412.3 424.8 413.0 426.7C413.7 428.5 414.4 430.4 415.1 432.3C415.8 434.1 416.5 436.0 417.2 437.9C417.9 439.8 418.6 441.6 419.3 443.5C420.0 445.4 420.7 447.2 421.4 449.1C422.1 451.0 422.8 452.9 423.5 454.7C424.2 456.6 424.8 458.5 425.5 460.4C426.2 462.3 426.9 464.1 427.6 466.0C428.2 467.9 428.9 469.8 429.6 471.7C430.3 473.5 430.9 475.4 431.6 477.3C432.3 479.2 433.0 481.1 433.6 483.0C434.3 484.9 435.0 486.7 435.6 488.6C436.3 490.5 437.0 492.4 437.6 494.3C438.3 496.2 438.9 498.1 439.6 500.0C440.3 501.9 440.9 503.7 441.6 505.6C442.2 507.5 442.9 509.4 443.6 511.3C444.2 513.2 444.9 515.1 445.5 517.0C446.2 518.9 446.8 520.8 447.5 522.7C448.1 524.6 448.8 526.5 449.4 528.4C450.1 530.3 450.7 532.2 451.4 534.1C452.0 536.0 452.6 537.9 453.3 539.8C453.9 541.7 454.6 543.6 455.2 545.5C455.9 547.4 456.5 549.3 457.1 551.2C457.8 553.1 458.5 555.3 459.1 556.9C459.6 558.5 460.2 560.1 460.4 560.8"/>
</g>
<rect x="125" y="15" width="686" height="545" fill="none" stroke="#000" stroke-width="2"/>
<line x1="601.0" x2="660.1" y1="39.3" y2="39.3" stroke="#00ff00" stroke-width="5.0"/>
<line x1="601.0" x2="660.1" y1="76.6" y2="76.6" stroke="#ff0000" stroke-width="5.0"/>
<line x1="601.0" x2="660.1" y1="114.3" y2="114.3" stroke="#000080" stroke-width="5.0"/>
<line x1="601.0" x2="660.1" y1="152.2" y2="152.2" stroke="#000000" stroke-width="5.0"/>
<line x1="603.5" x2="657.6" y1="189.9" y2="189.9" stroke="#000" stroke-width="2.8" stroke-dasharray="7.6 4.9"/>
<g class="txt">
<text transform="translate(664.29 48.10) scale(1.0772 1)" font-size="26.20">M3T10R1</text>
<text transform="translate(664.28 85.40) scale(1.0820 1)" font-size="26.20">M3T10R10</text>
<text transform="translate(664.28 123.10) scale(1.0820 1)" font-size="26.20">M3T32R10</text>
<text transform="translate(664.28 161.00) scale(1.0803 1)" font-size="26.20">M3T10Ri</text>
<text transform="translate(665.50 198.70) scale(1.1355 1)" font-size="26.20">best fits</text>
<text x="124.7" y="600.4" font-size="29.8" text-anchor="middle">1</text>
<text x="261.9" y="600.4" font-size="29.8" text-anchor="middle">2</text>
<text x="399.1" y="600.4" font-size="29.8" text-anchor="middle">4</text>
<text x="536.3" y="600.4" font-size="29.8" text-anchor="middle">8</text>
<text x="673.5" y="600.4" font-size="29.8" text-anchor="middle">16</text>
<text x="810.7" y="600.4" font-size="29.8" text-anchor="middle">32</text>
<text transform="translate(65.86 25.60) scale(0.9714 1)" font-size="29.80">10</text>
<text transform="translate(95.08 15.20) scale(1.0525 1)" font-size="20.40">0</text>
<text transform="translate(49.94 116.43) scale(0.9790 1)" font-size="29.80">10</text>
<text transform="translate(78.95 107.33) scale(1.3273 1)" font-size="20.40">−</text>
<text transform="translate(94.48 106.23) scale(1.0721 1)" font-size="20.40">1</text>
<text transform="translate(49.94 207.27) scale(0.9790 1)" font-size="29.80">10</text>
<text transform="translate(78.95 198.17) scale(1.3273 1)" font-size="20.40">−</text>
<text transform="translate(94.91 197.07) scale(1.1005 1)" font-size="20.40">2</text>
<text transform="translate(49.94 298.10) scale(0.9790 1)" font-size="29.80">10</text>
<text transform="translate(78.95 289.00) scale(1.3273 1)" font-size="20.40">−</text>
<text transform="translate(94.86 287.90) scale(1.0680 1)" font-size="20.40">3</text>
<text transform="translate(49.94 388.93) scale(0.9790 1)" font-size="29.80">10</text>
<text transform="translate(78.95 379.83) scale(1.3273 1)" font-size="20.40">−</text>
<text transform="translate(95.52 378.73) scale(0.9491 1)" font-size="20.40">4</text>
<text transform="translate(49.94 479.77) scale(0.9790 1)" font-size="29.80">10</text>
<text transform="translate(78.95 470.67) scale(1.3273 1)" font-size="20.40">−</text>
<text transform="translate(94.60 469.57) scale(1.0952 1)" font-size="20.40">5</text>
<text transform="translate(49.94 570.60) scale(0.9790 1)" font-size="29.80">10</text>
<text transform="translate(78.95 561.50) scale(1.3273 1)" font-size="20.40">−</text>
<text transform="translate(94.99 560.40) scale(1.0326 1)" font-size="20.40">6</text>
<text transform="translate(438.17 635.20) scale(1.2115 1)" font-size="27.00" font-style="italic">r</text>
<text transform="translate(454.00 641.59) scale(0.9889 1)" font-size="41.86" style="stroke-width:1px">/</text>
<text transform="translate(465.17 635.20) scale(1.2115 1)" font-size="27.00" font-style="italic">r</text>
<text transform="translate(479.55 639.00) scale(1.1095 1)" font-size="19.20">in</text>
<g transform="translate(30.2 359.3) rotate(-90)">
<text transform="translate(-0.32 0.01) scale(1.1518 1)" font-size="30.41" font-style="italic">B</text>
<text transform="translate(24.30 6.38) scale(0.8665 1)" font-size="43.20" style="stroke-width:1px">/</text>
<text transform="translate(35.74 0.00) scale(1.1351 1)" font-size="27.60">max</text>
<text transform="translate(98.35 1.76) scale(0.7342 1)" font-size="38.71" style="stroke-width:0.7px">(</text>
<text transform="translate(109.47 0.01) scale(1.1632 1)" font-size="30.41" font-style="italic">B</text>
<text transform="translate(132.30 1.76) scale(0.8047 1)" font-size="38.71" style="stroke-width:0.7px">)</text>
<path d="M7.5 -24.4H16.8M117.9 -24.4H127.3" stroke="#000" stroke-width="1.2" fill="none"/>
</g>
</g>
</svg></body></html>
